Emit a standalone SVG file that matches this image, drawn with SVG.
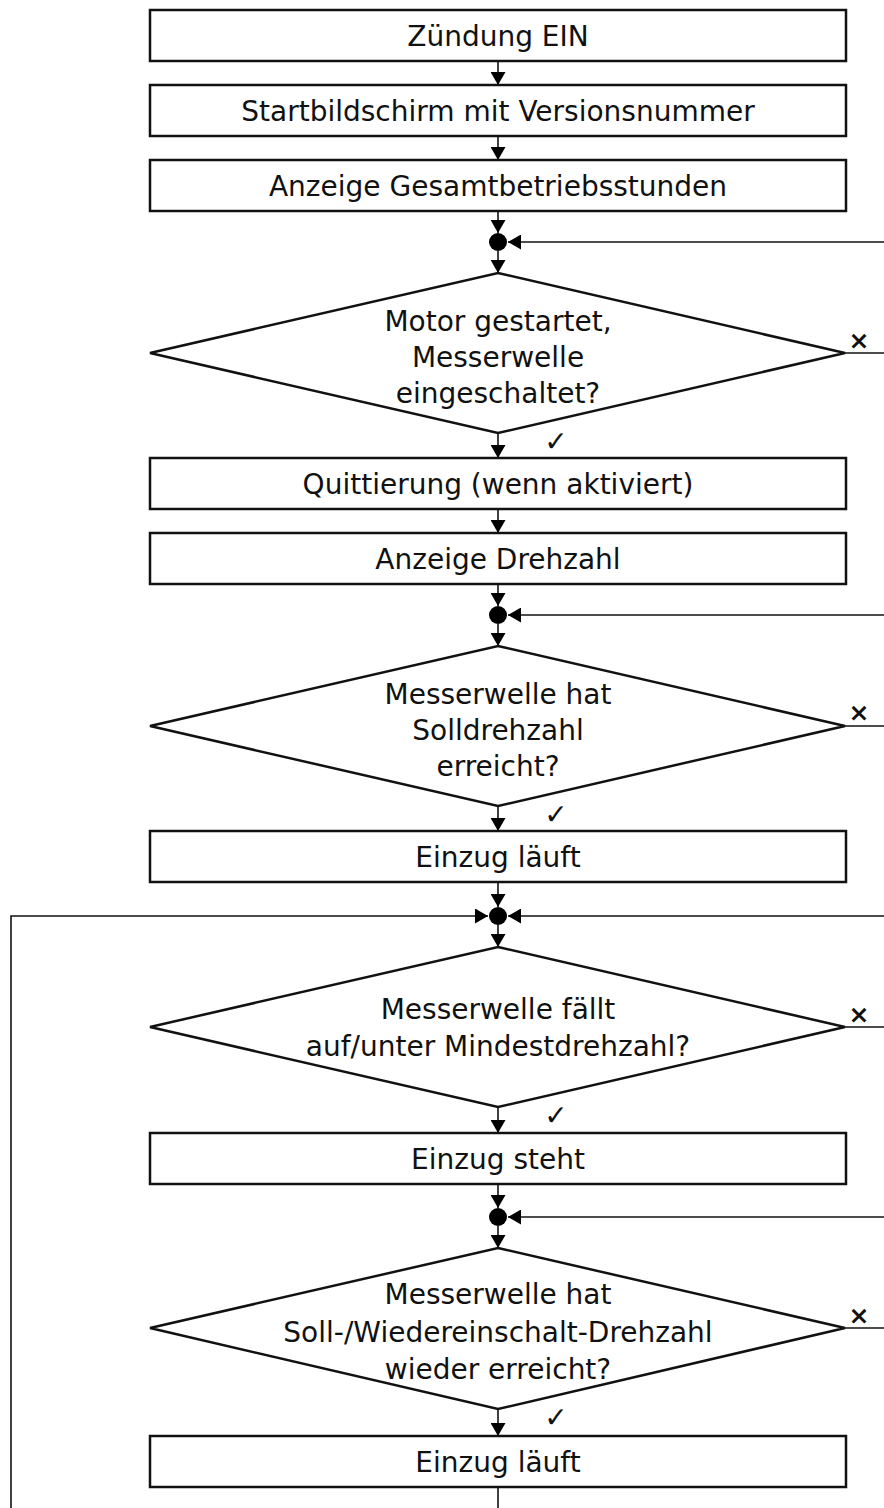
<svg xmlns="http://www.w3.org/2000/svg" width="884" height="1508" viewBox="0 0 884 1508">
<defs>
<style>
.box{fill:#fff;stroke:#111;stroke-width:2.5}
.dia{fill:#fff;stroke:#111;stroke-width:2.5}
.t{font-family:"DejaVu Sans","Liberation Sans",sans-serif;font-size:28px;fill:#111;text-anchor:middle}
.c{fill:none;stroke:#111;stroke-width:1.6}
.ck{font-family:"DejaVu Sans",sans-serif;font-size:28px;fill:#111;text-anchor:middle}
.x{font-family:"DejaVu Sans",sans-serif;font-size:25px;font-weight:bold;fill:#111;text-anchor:middle}
.dot{fill:#000}
</style>
<marker id="ah" viewBox="0 0 13 15" refX="13" refY="7.5" markerWidth="13" markerHeight="15" markerUnits="userSpaceOnUse" orient="auto">
<path d="M0,0 L13,7.5 L0,15 Z" fill="#000"/>
</marker>
</defs>
<rect width="884" height="1508" fill="#fff"/>

<g id="connectors">
<line class="c" x1="498" y1="61" x2="498" y2="85" marker-end="url(#ah)"/>
<line class="c" x1="498" y1="136" x2="498" y2="160" marker-end="url(#ah)"/>
<line class="c" x1="498" y1="211" x2="498" y2="233" marker-end="url(#ah)"/>
<line class="c" x1="498" y1="251" x2="498" y2="273" marker-end="url(#ah)"/>
<line class="c" x1="884" y1="242" x2="508" y2="242" marker-end="url(#ah)"/>
<line class="c" x1="845" y1="353" x2="884" y2="353"/>
<line class="c" x1="498" y1="433" x2="498" y2="458" marker-end="url(#ah)"/>
<line class="c" x1="498" y1="509" x2="498" y2="533" marker-end="url(#ah)"/>
<line class="c" x1="498" y1="584" x2="498" y2="606" marker-end="url(#ah)"/>
<line class="c" x1="498" y1="624" x2="498" y2="646" marker-end="url(#ah)"/>
<line class="c" x1="884" y1="615" x2="508" y2="615" marker-end="url(#ah)"/>
<line class="c" x1="845" y1="726" x2="884" y2="726"/>
<line class="c" x1="498" y1="806" x2="498" y2="831" marker-end="url(#ah)"/>
<line class="c" x1="498" y1="882" x2="498" y2="907" marker-end="url(#ah)"/>
<line class="c" x1="498" y1="925" x2="498" y2="947" marker-end="url(#ah)"/>
<line class="c" x1="884" y1="916" x2="508" y2="916" marker-end="url(#ah)"/>
<polyline class="c" points="11,1508 11,916 488,916" marker-end="url(#ah)"/>
<line class="c" x1="845" y1="1027" x2="884" y2="1027"/>
<line class="c" x1="498" y1="1107" x2="498" y2="1133" marker-end="url(#ah)"/>
<line class="c" x1="498" y1="1184" x2="498" y2="1208" marker-end="url(#ah)"/>
<line class="c" x1="498" y1="1226" x2="498" y2="1248" marker-end="url(#ah)"/>
<line class="c" x1="884" y1="1217" x2="508" y2="1217" marker-end="url(#ah)"/>
<line class="c" x1="845" y1="1328" x2="884" y2="1328"/>
<line class="c" x1="498" y1="1409" x2="498" y2="1436" marker-end="url(#ah)"/>
<line class="c" x1="498" y1="1487" x2="498" y2="1508"/>
<text class="x" x="859" y="349">×</text>
<text class="x" x="859" y="721">×</text>
<text class="x" x="859" y="1023">×</text>
<text class="x" x="859" y="1324">×</text>
<text class="ck" x="556" y="451">✓</text>
<text class="ck" x="556" y="824">✓</text>
<text class="ck" x="556" y="1125">✓</text>
<text class="ck" x="556" y="1427">✓</text>
</g>

<g id="n1"><rect class="box" x="150" y="10" width="696" height="51"/><text class="t" x="498" y="46">Zündung EIN</text></g>
<g id="n2"><rect class="box" x="150" y="85" width="696" height="51"/><text class="t" x="498" y="121">Startbildschirm mit Versionsnummer</text></g>
<g id="n3"><rect class="box" x="150" y="160" width="696" height="51"/><text class="t" x="498" y="196">Anzeige Gesamtbetriebsstunden</text></g>
<g id="j1"><circle class="dot" cx="498" cy="242" r="9"/></g>
<g id="d1"><polygon class="dia" points="498,273 845,353 498,433 150,353"/>
<text class="t" x="498" y="331">Motor gestartet,</text>
<text class="t" x="498" y="367">Messerwelle</text>
<text class="t" x="498" y="403">eingeschaltet?</text></g>
<g id="n4"><rect class="box" x="150" y="458" width="696" height="51"/><text class="t" x="498" y="494">Quittierung (wenn aktiviert)</text></g>
<g id="n5"><rect class="box" x="150" y="533" width="696" height="51"/><text class="t" x="498" y="569">Anzeige Drehzahl</text></g>
<g id="j2"><circle class="dot" cx="498" cy="615" r="9"/></g>
<g id="d2"><polygon class="dia" points="498,646 845,726 498,806 150,726"/>
<text class="t" x="498" y="704">Messerwelle hat</text>
<text class="t" x="498" y="740">Solldrehzahl</text>
<text class="t" x="498" y="776">erreicht?</text></g>
<g id="n6"><rect class="box" x="150" y="831" width="696" height="51"/><text class="t" x="498" y="867">Einzug läuft</text></g>
<g id="j3"><circle class="dot" cx="498" cy="916" r="9"/></g>
<g id="d3"><polygon class="dia" points="498,947 845,1027 498,1107 150,1027"/>
<text class="t" x="498" y="1019">Messerwelle fällt</text>
<text class="t" x="498" y="1056">auf/unter Mindestdrehzahl?</text></g>
<g id="n7"><rect class="box" x="150" y="1133" width="696" height="51"/><text class="t" x="498" y="1169">Einzug steht</text></g>
<g id="j4"><circle class="dot" cx="498" cy="1217" r="9"/></g>
<g id="d4"><polygon class="dia" points="498,1248 845,1328 498,1409 150,1328"/>
<text class="t" x="498" y="1304">Messerwelle hat</text>
<text class="t" x="498" y="1342">Soll-/Wiedereinschalt-Drehzahl</text>
<text class="t" x="498" y="1379">wieder erreicht?</text></g>
<g id="n8"><rect class="box" x="150" y="1436" width="696" height="51"/><text class="t" x="498" y="1472">Einzug läuft</text></g>
</svg>
